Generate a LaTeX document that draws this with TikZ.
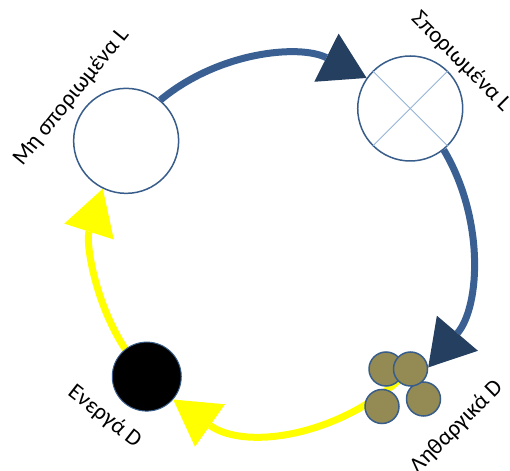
\documentclass[tikz,border=0pt]{standalone}
\usepackage{fontspec}
\setmainfont{Carlito}
\usetikzlibrary{arrows.meta,positioning,calc,backgrounds}
\definecolor{lineblue}{HTML}{3A6093}
\definecolor{headblue}{HTML}{243F60}
\definecolor{edgeblue}{HTML}{385D8A}
\definecolor{crossblue}{HTML}{95B3D7}
\definecolor{sporebrown}{HTML}{948A54}
\definecolor{hiyellow}{HTML}{FFFF00}
\tikzset{
  cell/.style={circle, draw=edgeblue, line width=1.5pt, fill=white,
               minimum size=105pt, inner sep=0pt},
  actcell/.style={circle, draw=edgeblue, line width=1pt, fill=black,
                  minimum size=69pt, inner sep=0pt},
  dormcell/.style={circle, draw=edgeblue, line width=1.5pt, fill=sporebrown,
                   minimum size=34pt, inner sep=0pt},
  tag/.style={font=\fontsize{23}{27}\selectfont, inner sep=0pt},
  cycblue/.style={draw=lineblue, line width=7pt,
                  -{Triangle[length=45pt,width=54pt,line width=0pt,color=headblue]}},
  cycyel/.style={draw=hiyellow, line width=7pt,
                 -{Triangle[length=45pt,width=52pt,line width=0pt]}}
}

\begin{document}
\begin{tikzpicture}[x=1pt,y=1pt]
  \useasboundingbox (0,0) rectangle (510,470);
  \coordinate (mid) at (282,224);

  % Leaf states
  \node[cell] (ns)   at ($(mid)+(146:188)$) {};
  \node[cell] (spor) at ($(mid)+(47:188)$) {};
  \draw[crossblue, line width=0.8pt] (spor.north west) -- (spor.south east);
  \draw[crossblue, line width=0.8pt] (spor.north east) -- (spor.south west);

  % Disease states
  \node[actcell] (act) at ($(mid)+(224:188)$) {};
  \node[dormcell] (dorm1) at (386,101) {};
  \node[dormcell, below=2pt of dorm1, xshift=-4pt] (dorm3) {};
  \node[dormcell, right=2pt of dorm1, yshift=-30pt] (dorm4) {};
  \node[dormcell, right=-11pt of dorm1] (dorm2) {};

  % Cycle arrows (clockwise)
  \draw[cycblue] (ns.50) to[out=39.8, in=153.2, looseness=0.93] (spor.145.1);
  \draw[cycblue] (spor.-51.1) to[out=-59.2, in=49.5, looseness=0.94] (dorm2.5);
  \begin{scope}[on background layer]
    \draw[cycyel] (dorm2.center) to[out=-133.9, in=324.8, looseness=0.97] (act.319.4);
    \draw[cycyel] (act.128.6) to[out=123.2, in=252.2, looseness=0.89] (ns.244.1);
  \end{scope}

  % Labels
  \node[tag, rotate=51]  (tns)   at ($(ns)+(-55,44)$)    {Μη σποριωμένα L};
  \node[tag, rotate=-45] (tspor) at ($(spor)+(51,47)$)   {Σποριωμένα L};
  \node[tag, rotate=-38] (tact)  at ($(act)+(-42,-40)$)  {Ενεργά D};
  \node[tag, rotate=45]  (tdorm) at ($(dorm4)+(33,-28)$) {Ληθαργικά D};
\end{tikzpicture}
\end{document}
